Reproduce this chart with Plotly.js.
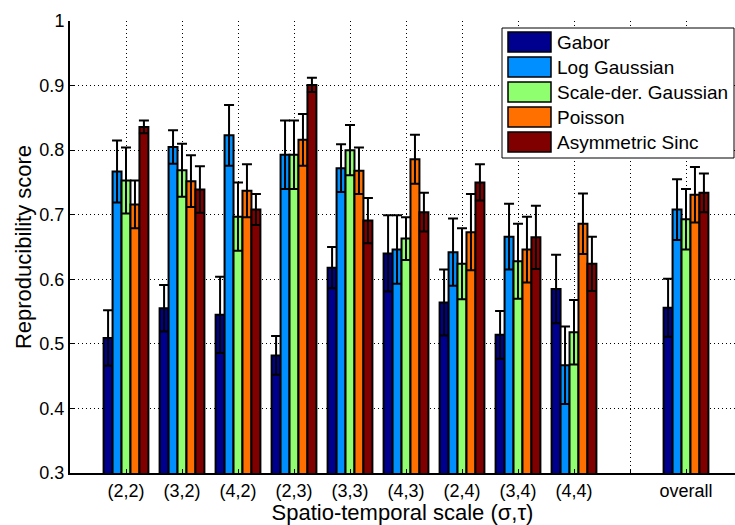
<!DOCTYPE html>
<html>
<head>
<meta charset="utf-8">
<script src="https://cdn.plot.ly/plotly-3.0.1.min.js"></script>
<style>html,body{margin:0;padding:0;background:#fff;overflow:hidden;}</style>
</head>
<body>
<div id="chart" style="width:735px;height:525px;"></div>
<script>
// ---- data ----
const groupLabels = ['(2,2)','(3,2)','(4,2)','(2,3)','(3,3)','(4,3)','(2,4)','(3,4)','(4,4)','overall'];
const groupPositions = [1,2,3,4,5,6,7,8,9,11];
const tickPositions = [1,2,3,4,5,6,7,8,9,10,11];
const tickLabels = ['(2,2)','(3,2)','(4,2)','(2,3)','(3,3)','(4,3)','(2,4)','(3,4)','(4,4)','','overall'];
const yTickVals = [0.3,0.4,0.5,0.6,0.7,0.8,0.9,1.0];
const yTickText = ['0.3','0.4','0.5','0.6','0.7','0.8','0.9','1'];

const seriesNames = ['Gabor','Log Gaussian','Scale-der. Gaussian','Poisson','Asymmetric Sinc'];
const gabor       = [0.509,0.555,0.545,0.482,0.618,0.640,0.564,0.514,0.585,0.556];
const gaborErr    = [0.043,0.036,0.059,0.030,0.032,0.059,0.051,0.037,0.053,0.045];
const logGauss    = [0.767,0.805,0.823,0.793,0.772,0.646,0.642,0.666,0.467,0.708];
const logGaussErr = [0.048,0.026,0.047,0.053,0.037,0.053,0.052,0.051,0.060,0.047];
const scaleDer    = [0.753,0.769,0.697,0.793,0.800,0.663,0.624,0.628,0.518,0.693];
const scaleDerErr = [0.051,0.041,0.053,0.053,0.039,0.033,0.055,0.058,0.050,0.047];
const poisson     = [0.716,0.752,0.737,0.816,0.768,0.786,0.673,0.646,0.686,0.731];
const poissonErr  = [0.037,0.040,0.041,0.040,0.036,0.038,0.059,0.051,0.047,0.043];
const asymSinc    = [0.836,0.739,0.708,0.901,0.691,0.704,0.750,0.665,0.624,0.734];
const asymSincErr = [0.010,0.036,0.024,0.011,0.035,0.030,0.028,0.049,0.042,0.030];

const colors = ['#00008F','#008FFF','#8FFF70','#FF7000','#800000'];
const values = [gabor, logGauss, scaleDer, poisson, asymSinc];
const errors = [gaborErr, logGaussErr, scaleDerErr, poissonErr, asymSincErr];

const FONT = '"Liberation Sans", Arial, Helvetica, sans-serif';

const traces = seriesNames.map((name, i) => ({
  type: 'bar',
  name: name,
  x: groupPositions,
  y: values[i],
  text: groupLabels,
  hoverinfo: 'name+y',
  textposition: 'none',
  marker: {color: colors[i], line: {color: '#000', width: 2}},
  error_y: {type: 'data', array: errors[i], symmetric: true, color: '#000', thickness: 2, width: 5},
  showlegend: false
}));

// ---- custom legend (paper coordinates from pixel positions) ----
const L = 70, R = 735, T = 21, B = 473;
const px = v => (v - L) / (R - L);
const py = v => (B - v) / (B - T);
const shapes = [{
  type: 'rect', xref: 'paper', yref: 'paper', layer: 'above',
  x0: px(502), x1: px(734), y0: py(158), y1: py(28),
  fillcolor: '#fff', line: {color: '#000', width: 1}
}];
const annotations = [];
seriesNames.forEach((name, i) => {
  const top = 32 + i * 25;
  shapes.push({
    type: 'rect', xref: 'paper', yref: 'paper', layer: 'above',
    x0: px(508), x1: px(551), y0: py(top + 20), y1: py(top),
    fillcolor: colors[i], line: {color: '#000', width: 1.5}
  });
  annotations.push({
    xref: 'paper', yref: 'paper', x: px(555), y: py(top + 10.5),
    xanchor: 'left', yanchor: 'middle', showarrow: false,
    text: name, font: {family: FONT, size: 19, color: '#000'}
  });
});

const layout = {
  width: 735, height: 525,
  margin: {l: L, r: 735 - R, t: T, b: 525 - B},
  paper_bgcolor: '#fff', plot_bgcolor: '#fff',
  barmode: 'group', bargap: 0.2, bargroupgap: 0,
  font: {family: FONT, size: 18, color: '#000'},
  xaxis: {
    range: [0, (R - L) / 56],
    tickmode: 'array', tickvals: tickPositions, ticktext: tickLabels,
    showgrid: true, gridcolor: '#000', gridwidth: 1, griddash: '1px,3px',
    showline: true, linecolor: '#000', linewidth: 2,
    ticks: 'inside', ticklen: 4, tickcolor: '#000',
    zeroline: false,
    tickfont: {family: FONT, size: 18},
    title: {text: 'Spatio-temporal scale (σ,τ)', font: {family: FONT, size: 22}, standoff: 4}
  },
  yaxis: {
    range: [0.3, 1.0],
    tickmode: 'array', tickvals: yTickVals, ticktext: yTickText,
    showgrid: true, gridcolor: '#000', gridwidth: 1, griddash: '1px,3px',
    showline: true, linecolor: '#000', linewidth: 2,
    ticks: 'inside', ticklen: 4, tickcolor: '#000',
    zeroline: false,
    tickfont: {family: FONT, size: 18},
    title: {text: 'Reproducibility score', font: {family: FONT, size: 22}, standoff: 2}
  },
  shapes: shapes,
  annotations: annotations,
  showlegend: false
};

Plotly.newPlot('chart', traces, layout, {displayModeBar: false, staticPlot: true});
</script>
</body>
</html>
